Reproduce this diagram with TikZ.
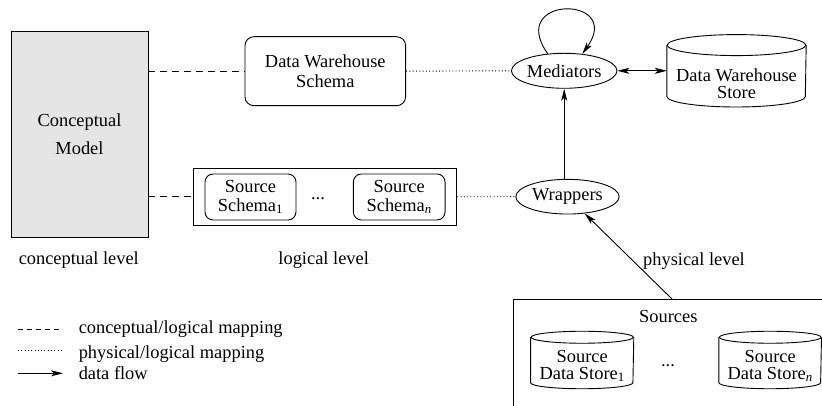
\documentclass[tikz,border=0pt]{standalone}
\usepackage{fontspec}
\setmainfont{Liberation Serif}
\usetikzlibrary{arrows.meta,calc,shapes.geometric}
\newcommand{\drawcyl}[3]{%
  \draw ([yshift=-#3pt]#1.north west) -- ([yshift=#3pt]#1.south west)
    arc[start angle=180,end angle=360,x radius=#2pt,y radius=#3pt]
    -- ([yshift=-#3pt]#1.north east);
  \draw ([yshift=-#3pt]#1.north) ellipse[x radius=#2pt,y radius=#3pt];
}
\begin{document}
\begin{tikzpicture}[x=1pt,y=1pt,line width=0.9pt,
  every node/.style={font=\rmfamily\fontsize{18.4}{20}\selectfont, inner sep=0pt},
  rbox/.style={draw, rounded corners=9pt, align=center},
  sqbox/.style={draw, align=center},
  ell/.style={draw, ellipse},
  cylgeo/.style={inner sep=0pt},
  cmline/.style={dash pattern=on 7pt off 5pt},
  plline/.style={dash pattern=on 1pt off 2.3pt},
  flow/.style={-{Stealth[length=12pt,width=6pt,inset=3pt]}},
  biflow/.style={{Stealth[length=12pt,width=6pt,inset=3pt]}-{Stealth[length=12pt,width=6pt,inset=3pt]}},
  lbl/.style={anchor=base west}
]
\useasboundingbox (0,0) rectangle (822,406);

% Conceptual model
\node[sqbox, fill=black!10, minimum width=137, minimum height=206,
  font=\rmfamily\fontsize{18.4}{28}\selectfont] (cm) at (79.5,272) {Conceptual\\Model};

% Data warehouse schema
\node[rbox, minimum width=160.7, minimum height=69] (dwsch) at (325.3,334.8) {Data Warehouse\\Schema};

% Source schemas container
\node[sqbox, minimum width=263.7, minimum height=57.5] (srccont) at (324.9,209.25) {};
\node[rbox, rounded corners=8pt, minimum width=91, minimum height=46, font=\rmfamily\fontsize{18.4}{18.5}\selectfont] (ss1) at (250.5,209) {Source\\Schema\textsubscript{1}};
\node[rbox, rounded corners=8pt, minimum width=91.7, minimum height=46, font=\rmfamily\fontsize{18.4}{18.5}\selectfont] (ssn) at (399.2,209) {Source\\Schema\textsubscript{\textit{n}}};
\node[anchor=base] (ssdots) at (318,206.5) {...};

% Mediators & wrappers
\node[ell, minimum width=105, minimum height=35] (med) at (564.2,335.2) {Mediators};
\node[ell, minimum width=103.3, minimum height=34.7] (wrap) at (567.5,209.3) {Wrappers};

% Data warehouse store
\node[cylgeo, minimum width=138.5, minimum height=71.5] (dws) at (736.5,335.2) {};
\drawcyl{dws}{69.25}{10.5}
\node[align=center, font=\rmfamily\fontsize{18.4}{16.7}\selectfont] (dwstext) at (736.5,322.5) {Data Warehouse\\Store};

% Sources box
\begin{scope}
\clip (0,0) rectangle (822,406);
\node[draw, minimum width=340, minimum height=140, anchor=north west] (srcbox) at (513.3,106.7) {};
\end{scope}
\coordinate (srcTop) at (672.3,106.7);
\node[anchor=base] (srclabel) at (668.3,83.3) {Sources};

% Source data stores
\node[cylgeo, minimum width=102.3, minimum height=56.6] (sds1) at (582.2,46) {};
\drawcyl{sds1}{51.15}{6}
\node[align=center, font=\rmfamily\fontsize{18.4}{16.5}\selectfont] (sds1text) at (582.2,40) {Source\\Data Store\textsubscript{1}};
\node[cylgeo, minimum width=101.7, minimum height=56.6] (sdsn) at (770.2,46) {};
\drawcyl{sdsn}{50.85}{6}
\node[align=center, font=\rmfamily\fontsize{18.4}{16.5}\selectfont] (sdsntext) at (770.2,40) {Source\\Data Store\textsubscript{\textit{n}}};
\node[anchor=base] (sdsdots) at (668,39) {...};

% Level labels
\node[lbl] (lconc) at (18.3,141) {conceptual level};
\node[lbl] (llog) at (278,141) {logical level};
\node[lbl] (lphys) at (642.7,140) {physical level};

% Connectors
\draw[cmline] (cm.east |- dwsch.west) -- (dwsch.west);
\draw[cmline] (cm.east |- srccont.west) -- (srccont.west);
\draw[plline] (dwsch.east) -- (med.west);
\draw[plline] (srccont.east) -- (wrap.west);
\draw[biflow] (med.east) -- (dws.west);
\draw[flow] (wrap.north -| med.south) -- (med.south);
\draw[flow] (srcTop) -- (wrap);
\draw[flow] (med.134) .. controls (506,411) and (624,411) .. (med.43);

% Legend
\coordinate (l1a) at (18,77); \coordinate (l1b) at (60,77);
\coordinate (l2a) at (18,56); \coordinate (l2b) at (62,56);
\coordinate (l3a) at (18,32.7); \coordinate (l3b) at (63,32.7);
\draw[dash pattern=on 5pt off 4pt] (l1a) -- (l1b);
\draw[plline] (l2a) -- (l2b);
\draw[flow] (l3a) -- (l3b);
\node[lbl] (leg1) at (78.3,72.7) {conceptual/logical mapping};
\node[lbl] (leg2) at (78.3,47.7) {physical/logical mapping};
\node[lbl] (leg3) at (78.3,26.7) {data flow};
\end{tikzpicture}
\end{document}
